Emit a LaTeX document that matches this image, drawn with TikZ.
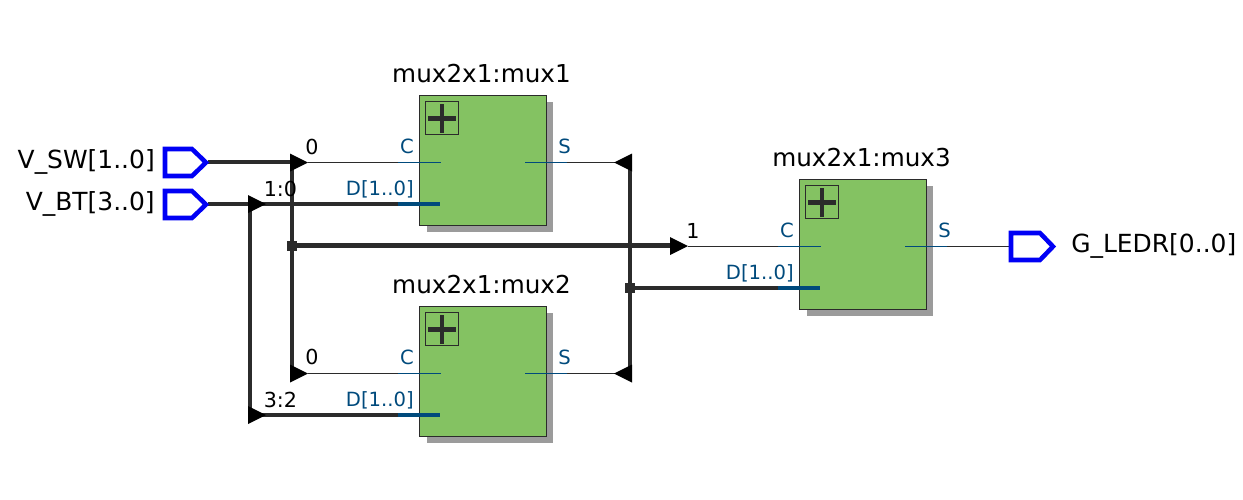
\documentclass[tikz,border=0pt]{standalone}
\usepackage{fontspec}
\setmainfont{DejaVu Sans}
\definecolor{wirec}{HTML}{2B2B2B}
\definecolor{portc}{HTML}{004A7C}
\definecolor{blockc}{HTML}{84C262}
\definecolor{shadowc}{HTML}{9B9B9B}
\definecolor{pinc}{HTML}{0000F5}
\tikzset{
  x=0.75pt,y=-0.75pt,
  bus/.style={draw=wirec,line width=3.4pt},
  thin wire/.style={draw=wirec,line width=1pt},
  port thin/.style={draw=portc,line width=0.8pt},
  port bus/.style={draw=portc,line width=3.4pt},
  block/.style={draw=wirec,fill=blockc,line width=0.8pt,minimum width=95.25pt,minimum height=97.5pt,inner sep=0pt,outer sep=0pt},
  tri/.style={fill=black,draw=none},
  junction/.style={fill=wirec,draw=none,minimum size=7.5pt,inner sep=0pt,outer sep=0pt},
  pin/.style={draw=pinc,line width=3.4pt,fill=white,line join=miter},
  title/.style={font=\fontsize{18.5}{22}\selectfont,inner sep=0pt,text=black,anchor=base},
  io/.style={font=\fontsize{18.7}{22}\selectfont,inner sep=0pt,text=black},
  portl/.style={font=\fontsize{14.7}{18}\selectfont,inner sep=0pt,text=portc},
  busl/.style={font=\fontsize{15.5}{18}\selectfont,inner sep=0pt,text=black,anchor=base},
}
\newcommand{\muxblock}[3]{% name, x-left, y-top
  \fill[shadowc] (#2+7,#3+6) rectangle (#2+133.5,#3+136);
  \node[block,anchor=north west] (#1) at (#2,#3) {};
  \draw[wirec,line width=0.8pt] (#2+6,#3+6) rectangle (#2+39,#3+39);
  \draw[wirec,line width=3.2pt] (#2+8.5,#3+23) -- (#2+36,#3+23);
  \draw[wirec,line width=3.2pt] (#2+22.5,#3+8.5) -- (#2+22.5,#3+37);
}
\newcommand{\rtri}[2]{\fill[tri] (#1-1,#2-9) -- (#1+17,#2) -- (#1-1,#2+9) -- cycle;}
\newcommand{\ltri}[2]{\fill[tri] (#1+1,#2-9) -- (#1-17,#2) -- (#1+1,#2+9) -- cycle;}
\begin{document}
\begin{tikzpicture}
\useasboundingbox (0,0) rectangle (1243,500);
% blocks
\muxblock{mux1}{419.5}{95.5}
\muxblock{mux2}{419.5}{306.5}
\muxblock{mux3}{799.5}{179.5}
\node[title] (t1) at (481.5,82) {mux2x1:mux1};
\node[title] (t2) at (481.5,293) {mux2x1:mux2};
\node[title] (t3) at (861.5,166) {mux2x1:mux3};
% coordinates
\coordinate (swe) at (208,162);
\coordinate (bte) at (208,204);
\coordinate (a1) at (291,162);
\coordinate (jc) at (292,245.5);
\coordinate (jd) at (630,288);
% thin wires
\draw[thin wire] (308,162.5) -- (398,162.5);
\draw[thin wire] (308,373.5) -- (398,373.5);
\draw[thin wire] (567,162.5) -- (615,162.5);
\draw[thin wire] (567,373.5) -- (615,373.5);
\draw[thin wire] (688,246.5) -- (778,246.5);
\draw[thin wire] (947,246.5) -- (1009,246.5);
% buses
\draw[bus] (swe) -- (a1);
\draw[bus] (bte) -- (398,204);
\draw[bus] (292,162) -- (292,373);
\draw[bus] (250,204) -- (250,415);
\draw[bus] (630,162) -- (630,373);
\draw[bus] (jc) -- (671,245.5);
\draw[bus] (jd) -- (778,288);
\draw[bus] (262,415) -- (398,415);
% arrowheads
\rtri{291}{162.5}
\rtri{291}{373.5}
\rtri{249}{204}
\rtri{249}{415}
\rtri{671}{246}
\ltri{631}{162.5}
\ltri{631}{373.5}
\node[junction] (j1) at (jc) {};
\node[junction] (j2) at (jd) {};
% port stubs
\draw[port thin] (398,162.5) -- (441,162.5);
\draw[port thin] (398,373.5) -- (441,373.5);
\draw[port thin] (525,162.5) -- (567,162.5);
\draw[port thin] (525,373.5) -- (567,373.5);
\draw[port thin] (778,246.5) -- (821,246.5);
\draw[port thin] (905,246.5) -- (947,246.5);
\draw[port bus] (398,204) -- (440,204);
\draw[port bus] (398,415) -- (440,415);
\draw[port bus] (778,288) -- (820,288);
% pins
\draw[pin] (165,149) -- (192,149) -- (206,162.5) -- (192,176) -- (165,176) -- cycle;
\draw[pin] (165,191) -- (192,191) -- (206,204.5) -- (192,218) -- (165,218) -- cycle;
\draw[pin] (1011,233) -- (1040,233) -- (1053,246.5) -- (1040,260) -- (1011,260) -- cycle;
\node[io,anchor=base east] (sw) at (155,168) {V\_SW[1..0]};
\node[io,anchor=base east] (bt) at (155,210) {V\_BT[3..0]};
\node[io,anchor=base west] (led) at (1071,252) {G\_LEDR[0..0]};
% bus labels
\node[busl,anchor=base west] (l1) at (305,154.5) {0};
\node[busl,anchor=base west] (l2) at (263.5,196.5) {1:0};
\node[busl,anchor=base west] (l3) at (305,364.5) {0};
\node[busl,anchor=base west] (l4) at (263.5,407.5) {3:2};
\node[busl,anchor=base west] (l5) at (686,238.5) {1};
% port labels
\node[portl,anchor=base east] (c1) at (414,153) {C};
\node[portl,anchor=base east] (d1) at (414,195) {D[1..0]};
\node[portl,anchor=base west] (o1) at (558,153) {S};
\node[portl,anchor=base east] (c2) at (414,364) {C};
\node[portl,anchor=base east] (d2) at (414,406) {D[1..0]};
\node[portl,anchor=base west] (o2) at (558,364) {S};
\node[portl,anchor=base east] (c3) at (794,237) {C};
\node[portl,anchor=base east] (d3) at (794,279) {D[1..0]};
\node[portl,anchor=base west] (o3) at (938,237) {S};
\end{tikzpicture}
\end{document}
